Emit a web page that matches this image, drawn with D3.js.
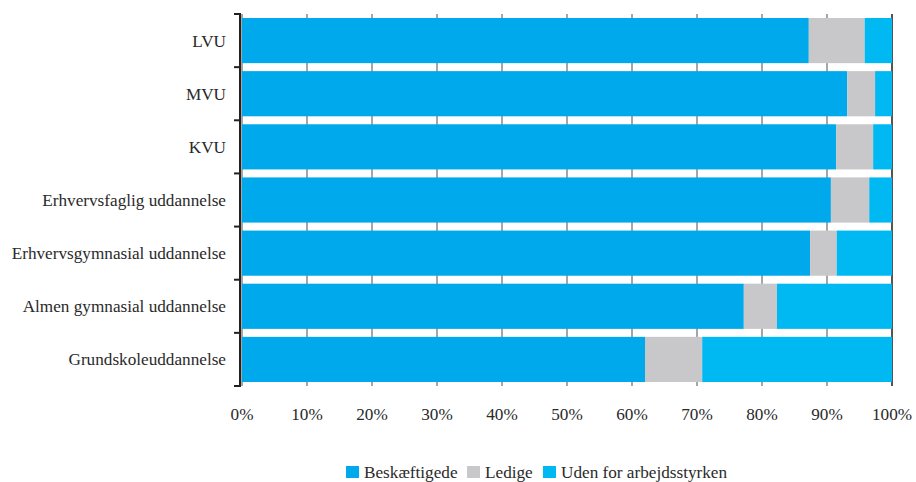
<!DOCTYPE html>
<html><head><meta charset="utf-8">
<script src="https://cdn.jsdelivr.net/npm/d3@7"></script>
<style>body{margin:0;background:#fff}text{font-family:"Liberation Serif","DejaVu Serif",serif;fill:#2a2a2a}</style>
</head><body><svg id="c" width="916" height="482"></svg>
<script>
const categories = ["LVU","MVU","KVU","Erhvervsfaglig uddannelse","Erhvervsgymnasial uddannelse","Almen gymnasial uddannelse","Grundskoleuddannelse"];
const seriesNames = ["Beskæftigede","Ledige","Uden for arbejdsstyrken"];
const beskaeftigede = [87.2, 93.1, 91.4, 90.6, 87.4, 77.2, 62.0];
const ledige = [8.6, 4.3, 5.7, 5.9, 4.1, 5.1, 8.8];
const uden = [4.2, 2.6, 2.9, 3.5, 8.5, 17.7, 29.2];
const xTicks = [0,10,20,30,40,50,60,70,80,90,100];
const colors = ["#00A9EC","#C8C8CA","#00B9F2"];
const FS = 17.2;

const svg = d3.select("#c");
const x = d3.scaleLinear().domain([0,100]).range([242,892]);
const y = d3.scaleBand().domain(categories).range([14,386]).paddingInner(0.15).paddingOuter(0.075);

// gridlines
svg.append("g").selectAll("line").data(xTicks).join("line")
  .attr("x1",d=>x(d)).attr("x2",d=>x(d)).attr("y1",14).attr("y2",386)
  .attr("stroke",d=>d===100?"#555":"#888").attr("stroke-width",d=>d===100?2:1.5);

const rows = categories.map((c,i)=>({c, vals:[beskaeftigede[i],ledige[i],uden[i]]}));
const g = svg.append("g");
rows.forEach(r=>{
  let acc=0;
  r.vals.forEach((v,j)=>{
    const x0 = acc; acc += v;
    g.append("rect").attr("x",x(x0)).attr("width",x(Math.min(acc,100))-x(x0))
      .attr("y",y(r.c)).attr("height",y.bandwidth()).attr("fill",colors[j]);
  });
});

// y axis
svg.append("line").attr("x1",240).attr("x2",240).attr("y1",14).attr("y2",386).attr("stroke","#222").attr("stroke-width",2);
svg.append("g").selectAll("line").data([14].concat(categories.map((c,i)=>14+y.step()*(i+1)))).join("line")
  .attr("x1",234).attr("x2",241).attr("y1",d=>d).attr("y2",d=>d).attr("stroke","#222").attr("stroke-width",2);
svg.append("g").selectAll("text").data(categories).join("text")
  .attr("x",226).attr("y",d=>y(d)+y.bandwidth()/2).attr("dy","0.35em")
  .attr("text-anchor","end").attr("font-size",FS).text(d=>d);

// x tick labels
svg.append("g").selectAll("text").data(xTicks).join("text")
  .attr("x",d=>x(d)).attr("y",420).attr("text-anchor","middle").attr("font-size",FS).text(d=>d+"%");

// legend
const legX = [346,467,543];
const lg = svg.append("g");
seriesNames.forEach((s,i)=>{
  lg.append("rect").attr("x",legX[i]).attr("y",466).attr("width",13).attr("height",12).attr("fill",colors[i]);
  lg.append("text").attr("x",legX[i]+18).attr("y",478).attr("font-size",FS).text(s);
});
</script></body></html>
